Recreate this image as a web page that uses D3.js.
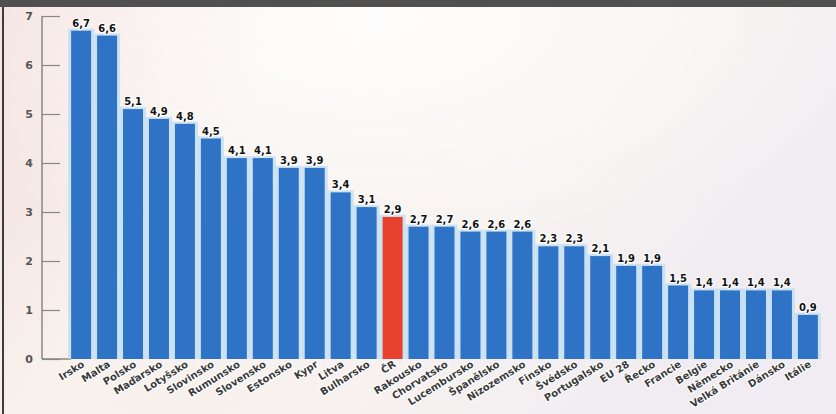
<!DOCTYPE html>
<html>
<head>
<meta charset="utf-8">
<script src="https://cdn.jsdelivr.net/npm/d3@7"></script>
<style>
  html, body { margin: 0; padding: 0; background: #fff; }
  svg { display: block; }
  .vlabel { font-family: "DejaVu Sans", sans-serif; font-weight: bold; font-size: 10px; fill: #111; }
  .clabel { font-family: "DejaVu Sans", sans-serif; font-weight: bold; font-size: 10px; fill: #3a3a3a; }
  .y.axis text { font-family: "DejaVu Sans", sans-serif; font-weight: bold; font-size: 11px; fill: #555; }
</style>
</head>
<body>
<div id="chart"></div>
<script>
var countries = ["Irsko", "Malta", "Polsko", "Maďarsko", "Lotyšsko", "Slovinsko", "Rumunsko", "Slovensko",
    "Estonsko", "Kypr", "Litva", "Bulharsko", "ČR", "Rakousko", "Chorvatsko", "Lucembursko", "Španělsko",
    "Nizozemsko", "Finsko", "Švédsko", "Portugalsko", "EU 28", "Řecko", "Francie", "Belgie", "Německo",
    "Velká Británie", "Dánsko", "Itálie"];
var values = [6.7, 6.6, 5.1, 4.9, 4.8, 4.5, 4.1, 4.1, 3.9, 3.9, 3.4, 3.1, 2.9, 2.7, 2.7, 2.6, 2.6,
    2.6, 2.3, 2.3, 2.1, 1.9, 1.9, 1.5, 1.4, 1.4, 1.4, 1.4, 0.9];
var highlight = ["ČR"];
var yTicks = [0, 1, 2, 3, 4, 5, 6, 7];

var data = countries.map(function (c, i) { return { name: c, value: values[i] }; });

var width = 836, height = 414;

var svg = d3.select("#chart")
    .append("svg")
    .attr("width", width)
    .attr("height", height);

// background: washed out photo look
var defs = svg.append("defs");
var bg = defs.append("linearGradient").attr("id", "bg")
    .attr("x1", "0").attr("y1", "0").attr("x2", "1").attr("y2", "0.4");
bg.append("stop").attr("offset", "0").attr("stop-color", "#f2dedb");
bg.append("stop").attr("offset", "0.35").attr("stop-color", "#f8f1ec");
bg.append("stop").attr("offset", "0.7").attr("stop-color", "#f7f2f0");
bg.append("stop").attr("offset", "1").attr("stop-color", "#f1ecf1");

var topGlow = defs.append("radialGradient").attr("id", "topGlow")
    .attr("cx", "0.45").attr("cy", "0.05").attr("r", "0.6");
topGlow.append("stop").attr("offset", "0").attr("stop-color", "#ffffff").attr("stop-opacity", 0.9);
topGlow.append("stop").attr("offset", "1").attr("stop-color", "#ffffff").attr("stop-opacity", 0);

svg.append("rect").attr("width", width).attr("height", height).attr("fill", "url(#bg)");
svg.append("rect").attr("width", width).attr("height", height).attr("fill", "url(#topGlow)");

// dark strip at the top and the left frame edge
svg.append("rect").attr("x", 0).attr("y", 0).attr("width", width).attr("height", 7).attr("fill", "#505050");
svg.append("rect").attr("x", 2).attr("y", 7).attr("width", 2).attr("height", height - 7).attr("fill", "#3c3c3c");

var x = d3.scaleBand()
    .domain(countries)
    .range([68, 821])
    .paddingInner(0.23)
    .paddingOuter(0.12);

var y = d3.scaleLinear()
    .domain([0, 7])
    .range([359, 16]);

var axisX = 42;

// y axis, ticks pointing into the plot
var yAxis = d3.axisLeft(y)
    .tickValues(yTicks)
    .tickSize(-18)
    .tickPadding(9)
    .tickFormat(d3.format("d"));

var gy = svg.append("g")
    .attr("class", "y axis")
    .attr("transform", "translate(" + axisX + ",0)")
    .call(yAxis);
gy.select(".domain").remove();
gy.selectAll(".tick line").attr("stroke", "#8f8583").attr("stroke-width", 1.2);

svg.append("line")
    .attr("x1", axisX).attr("x2", axisX)
    .attr("y1", y(7)).attr("y2", y(0))
    .attr("stroke", "#8f8583").attr("stroke-width", 1.5);
svg.append("line")
    .attr("x1", axisX).attr("x2", x(countries[0]))
    .attr("y1", y(0)).attr("y2", y(0))
    .attr("stroke", "#8f8583").attr("stroke-width", 1.5);

// light blue halo behind bars
svg.selectAll("rect.glow")
    .data(data)
    .enter()
    .append("rect")
    .attr("class", "glow")
    .attr("x", function (d) { return x(d.name) - 3; })
    .attr("y", function (d) { return y(d.value) - 2; })
    .attr("width", x.bandwidth() + 6)
    .attr("height", function (d) { return y(0) - y(d.value) + 2; })
    .attr("fill", "#bcdcf3")
    .attr("opacity", 0.75);

svg.selectAll("rect.bar")
    .data(data)
    .enter()
    .append("rect")
    .attr("class", "bar")
    .attr("x", function (d) { return x(d.name); })
    .attr("y", function (d) { return y(d.value); })
    .attr("width", x.bandwidth())
    .attr("height", function (d) { return y(0) - y(d.value); })
    .attr("fill", function (d) { return highlight.indexOf(d.name) != -1 ? "#e8412e" : "#2f73c6"; });

// value labels
svg.selectAll("text.vlabel")
    .data(data)
    .enter()
    .append("text")
    .attr("class", "vlabel")
    .attr("x", function (d) { return x(d.name) + x.bandwidth() / 2; })
    .attr("y", function (d) { return y(d.value) - 4; })
    .attr("text-anchor", "middle")
    .style("paint-order", "stroke")
    .style("stroke", "#ffffff")
    .style("stroke-width", 2)
    .text(function (d) { return d3.format(".1f")(d.value).replace(".", ","); });

// country labels, slanted
svg.selectAll("text.clabel")
    .data(data)
    .enter()
    .append("text")
    .attr("class", "clabel")
    .attr("text-anchor", "end")
    .attr("transform", function (d) {
        return "translate(" + (x(d.name) + x.bandwidth() / 2 + 4) + "," + (y(0) + 7) + ") rotate(-32)";
    })
    .style("paint-order", "stroke")
    .style("stroke", "#ffffff")
    .style("stroke-width", 2)
    .text(function (d) { return d.name; });
</script>
</body>
</html>
